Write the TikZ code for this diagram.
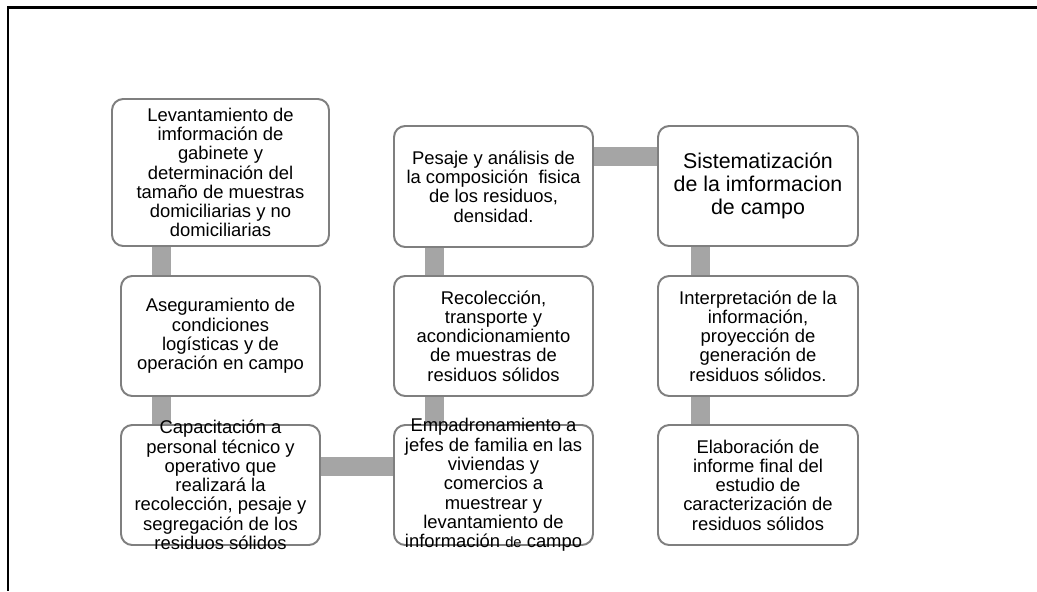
\documentclass[tikz,border=0pt]{standalone}
\usepackage{fontspec}
\setmainfont{Liberation Sans}
\usepackage{xcolor}
\usetikzlibrary{backgrounds}

\definecolor{boxgray}{HTML}{7F7F7F}
\definecolor{bargray}{HTML}{A5A5A5}

\begin{document}
\begin{tikzpicture}[
  box/.style={draw=boxgray, line width=1.4pt, rounded corners=0.28cm, fill=white,
    minimum width=4.975cm, minimum height=3cm, inner sep=0pt},
  txt/.style={align=center, inner sep=0pt, font=\fontsize{13.1}{13.7}\selectfont},
  bigtxt/.style={align=center, inner sep=0pt, font=\fontsize{15.2}{16.6}\selectfont},
  bar/.style={draw=bargray, line width=0.475cm}
]

\useasboundingbox (0,0) rectangle (25.925,-14.775);

% frame
\draw[line width=1.8pt] (25.925,-0.19) -- (0.2,-0.19) -- (0.2,-14.775);

% first column
\node[box, minimum width=5.425cm, minimum height=3.675cm] (lev) at (5.5125,-4.3125) {};
\node[box] (ase) at (5.5125,-8.4) {};
\node[box] (cap) at (5.5125,-12.125) {};

\node[txt] (levtxt) at (lev) {Levantamiento de\\ imformación de\\ gabinete y\\ determinación del\\ tamaño de muestras\\ domiciliarias y no\\ domiciliarias};
\node[txt] (asetxt) at (ase) {Aseguramiento de\\ condiciones\\ logísticas y de\\ operación en campo};
\node[txt] (captxt) at (cap) {Capacitación a\\ personal técnico y\\ operativo que\\ realizará la\\ recolección, pesaje y\\ segregación de los\\ residuos sólidos};

% second column
\node[box, minimum height=3.025cm] (pes) at (12.3375,-4.6625) {};
\node[box] (rec) at (12.3375,-8.4) {};
\node[box] (emp) at (12.3375,-12.125) {};

\node[txt] (pestxt) at (pes) {Pesaje y análisis de\\ la composición\ \ fisica\\ de los residuos,\\ densidad.};
\node[txt] (rectxt) at (rec) {Recolección,\\ transporte y\\ acondicionamiento\\ de muestras de\\ residuos sólidos};
\node[txt] (emptxt) at (emp) {Empadronamiento a\\ jefes de familia en las\\ viviendas y\\ comercios a\\ muestrear y\\ levantamiento de\\ información {\fontsize{10.5}{13.7}\selectfont de} campo};

% third column
\node[box, minimum width=5cm] (sis) at (18.95,-4.65) {};
\node[box, minimum width=5cm] (int) at (18.95,-8.4) {};
\node[box, minimum width=5cm] (ela) at (18.95,-12.125) {};

\node[bigtxt] (sistxt) at (sis) {Sistematización\\ de la imformacion\\ de campo};
\node[txt] (inttxt) at (int) {Interpretación de la\\ información,\\ proyección de\\ generación de\\ residuos sólidos.};
\node[txt] (elatxt) at (ela) {Elaboración de\\ informe final del\\ estudio de\\ caracterización de\\ residuos sólidos};

% connecting bars
\begin{scope}[on background layer]
\draw[bar] ([xshift=-1.4875cm]lev.south) -- ([xshift=-1.4875cm]ase.north);
\draw[bar] ([xshift=-1.4875cm]ase.south) -- ([xshift=-1.4875cm]cap.north);
\draw[bar] ([yshift=0.475cm]cap.east) -- ([yshift=0.475cm]emp.west);
\draw[bar] ([xshift=-1.4875cm]emp.north) -- ([xshift=-1.4875cm]rec.south);
\draw[bar] ([xshift=-1.4875cm]rec.north) -- ([xshift=-1.4875cm]pes.south);
\draw[bar] ([yshift=0.76cm]pes.east) -- ([yshift=0.76cm]pes.east -| sis.west);
\draw[bar] ([xshift=-1.45cm]sis.south) -- ([xshift=-1.45cm]int.north);
\draw[bar] ([xshift=-1.45cm]int.south) -- ([xshift=-1.45cm]ela.north);
\end{scope}

\end{tikzpicture}
\end{document}
